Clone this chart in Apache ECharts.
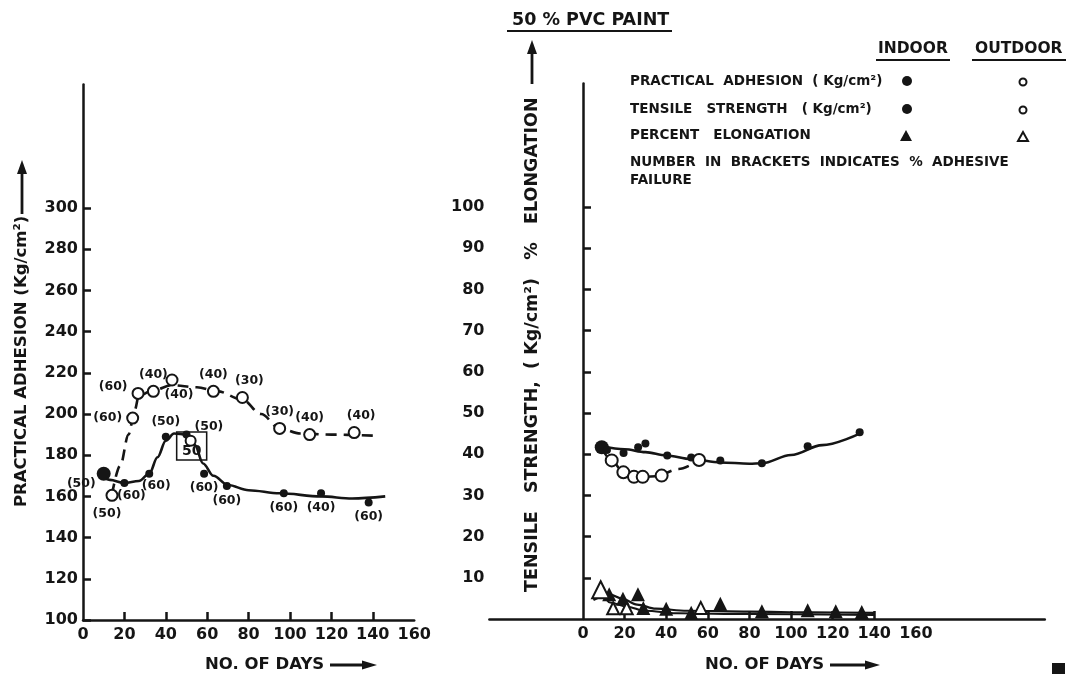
<!DOCTYPE html>
<html><head><meta charset="utf-8">
<script src="https://cdn.jsdelivr.net/npm/echarts@6/dist/echarts.min.js"></script>
<style>html,body{margin:0;padding:0;background:#fff}#c{width:1067px;height:674px}</style>
</head><body><div id="c"></div>
<script>
// ---------- LEFT PANEL: practical adhesion ----------
const leftXTicks = [0,20,40,60,80,100,120,140,160];
const leftYTicks = [100,120,140,160,180,200,220,240,260,280,300];
const indoorAdhDays = [10, 20, 32, 40, 50, 58.5, 69.5, 97, 115, 138];
const indoorAdhVals = [171, 166.5, 171, 189, 190, 171, 165, 161.5, 161.5, 157];
const indoorAdhLabels = ['(50)','(60)','(60)','(50)','(50)','(60)','(60)','(60)','(40)','(60)'];
const indoorAdhLabelPos = ['leftLow','bottomRight','bottomRight','top','right','bottom','bottom','bottom','bottom','bottom'];
const indoorCurveDays = [8, 13, 20, 27, 32, 36, 40, 44, 50, 54, 58, 63, 70, 80, 95, 115, 130, 146];
const indoorCurveVals = [170.5, 168, 166.5, 167.5, 171, 179, 187, 190.5, 190, 185, 176, 170, 165.5, 163, 161.5, 160, 159, 160];

const outdoorAdhDays = [14, 24, 26.6, 34, 43, 63, 77, 95, 109.5, 131];
const outdoorAdhVals = [160.5, 198, 210, 211, 216.5, 211, 208, 193, 190, 191];
const outdoorAdhLabels = ['(50)','(60)','(60)','(40)','(40)','(40)','(30)','(30)','(40)','(40)'];
const outdoorAdhLabelPos = ['bottomLeft','left','leftHigh','top','bottomRight','top','topRight','top','top','topRight'];
const outdoorCurveDays = [14, 18, 22, 25, 27, 34, 43, 55, 65, 77, 86, 95, 105, 120, 140];
const outdoorCurveVals = [161, 175, 190, 202, 209, 211.5, 214, 213, 211, 207, 200, 193, 190.5, 190, 189.5];

const boxedDay = [52], boxedVal = [187];
const boxDay = [52.5], boxVal = [184.5], boxLabel = ['50'];

// ---------- RIGHT PANEL: tensile strength & elongation ----------
const rightXTicks = [0,20,40,60,80,100,120,140,160];
const rightYTicks = [10,20,30,40,50,60,70,80,90,100];
const tensileInDays = [9, 11.5, 19.5, 26.5, 30, 40.5, 52, 66, 86, 108, 133];
const tensileInVals = [41.7, 41, 40.3, 41.7, 42.6, 39.7, 39.2, 38.5, 37.8, 41.9, 45.3];
const tensileInCurveDays = [9, 20, 30, 40, 52, 66, 80, 86, 100, 115, 133];
const tensileInCurveVals = [42, 41.2, 40.5, 39.7, 38.8, 38, 37.7, 37.8, 39.8, 42.2, 45];
const tensileOutDays = [13.8, 19.4, 24.5, 28.7, 37.8, 55.8];
const tensileOutVals = [38.5, 35.6, 34.5, 34.5, 34.8, 38.6];
const tensileOutCurveDays = [9, 13.8, 19.4, 24.5, 28.7, 37.8];
const tensileOutCurveVals = [41.5, 38.5, 35.6, 34.5, 34.5, 34.7];
const tensileOutDashDays = [37.8, 46, 55.8];
const tensileOutDashVals = [34.8, 36.4, 38.6];

const elongInDays = [12.6, 19.2, 26.4, 29, 40, 52, 66, 86, 108, 121.5, 134];
const elongInVals = [6, 4.9, 6, 2.7, 2.5, 1.5, 3.7, 1.9, 2.1, 1.9, 1.7];
const elongInCurveDays = [5, 12.6, 19, 26, 35, 50, 80, 110, 140];
const elongInCurveVals = [4.6, 6, 4.9, 3.5, 2.5, 2, 1.8, 1.6, 1.5];
const elongOutDays = [8.5, 14.5, 21, 56.6];
const elongOutVals = [7.1, 2.6, 2.6, 2.7];
const elongOutCurveDays = [8.5, 13, 21, 30, 45, 80, 140];
const elongOutCurveVals = [7, 4, 3, 2, 1.4, 1.2, 1.0];

// ---------- helpers ----------
const INK = '#151515';
const FONT = 'DejaVu Sans';
const pairs = (xs, ys) => xs.map((x, i) => [x, ys[i]]);
const posMap = {
  top: {position: 'top', offset: [0, 0]},
  topRight: {position: 'top', offset: [7, 0]},
  bottom: {position: 'bottom', offset: [0, 0]},
  bottomLeft: {position: 'bottom', offset: [-5, 1]},
  bottomRight: {position: 'bottom', offset: [7, -2]},
  left: {position: 'left', offset: [0, 0]},
  leftHigh: {position: 'left', offset: [0, -7]},
  leftLow: {position: 'left', offset: [3, 10]},
  right: {position: 'right', offset: [0, -8]}
};
function labelled(xs, ys, labels, pos) {
  return xs.map((x, i) => ({
    value: [x, ys[i]],
    label: Object.assign({show: true, formatter: labels[i]}, posMap[pos[i]])
  }));
}
const ptLabel = {color: INK, fontFamily: FONT, fontWeight: 'bold', fontSize: 12.5, distance: 4, opacity: 1};

function axisX(grid, min, max, ticks, labels) {
  return {
    type: 'value', gridIndex: grid, min: min, max: max,
    splitLine: {show: false},
    axisLine: {show: true, lineStyle: {color: INK, width: 2.5}},
    axisTick: {show: true, inside: true, length: 8, lineStyle: {color: INK, width: 2.5}, customValues: ticks},
    axisLabel: {color: INK, fontFamily: FONT, fontWeight: 'bold', fontSize: 16, margin: 7, customValues: labels}
  };
}
function axisY(grid, min, max, ticks) {
  return {
    type: 'value', gridIndex: grid, min: min, max: max,
    splitLine: {show: false},
    axisLine: {show: true, onZero: true, lineStyle: {color: INK, width: 2.5}},
    axisTick: {show: true, inside: true, length: 8, lineStyle: {color: INK, width: 2.5}, customValues: ticks},
    axisLabel: {color: INK, fontFamily: FONT, fontWeight: 'bold', fontSize: 16, margin: 5, customValues: ticks}
  };
}
function curve(xi, xs, ys, dashed, w) {
  return {type: 'line', xAxisIndex: xi, yAxisIndex: xi, data: pairs(xs, ys), smooth: 0.35, smoothMonotone: 'x',
    symbol: 'none', silent: true, z: 2,
    lineStyle: {color: INK, width: w || 2.6, opacity: 1, type: dashed ? [11, 7] : 'solid'}};
}
const solidItem = {color: INK, opacity: 1};
const openItem = {color: '#fff', borderColor: INK, borderWidth: 2, opacity: 1};

const chart = echarts.init(document.getElementById('c'), null, {renderer: 'canvas'});
const option = {
  backgroundColor: '#ffffff',
  animation: false,
  grid: [
    {left: 83, top: 84.4, width: 331.2, height: 535.6},
    {left: 489.4, top: 83.4, width: 555.4, height: 535.6}
  ],
  xAxis: [
    axisX(0, 0, 160, [20,40,60,80,100,120,140], leftXTicks),
    axisX(1, -45, 222, [20,40,60,80,100,120,140], rightXTicks)
  ],
  yAxis: [
    axisY(0, 100, 360, leftYTicks),
    axisY(1, 0, 130, rightYTicks)
  ],
  series: [
    curve(0, indoorCurveDays, indoorCurveVals, false),
    curve(0, outdoorCurveDays, outdoorCurveVals, true),
    {type: 'scatter', xAxisIndex: 0, yAxisIndex: 0, z: 4,
      data: labelled(indoorAdhDays, indoorAdhVals, indoorAdhLabels, indoorAdhLabelPos),
      symbol: 'circle', symbolSize: (v, p) => p.dataIndex === 0 ? 14 : 8,
      itemStyle: solidItem, label: ptLabel},
    {type: 'scatter', xAxisIndex: 0, yAxisIndex: 0, z: 5,
      data: labelled(outdoorAdhDays, outdoorAdhVals, outdoorAdhLabels, outdoorAdhLabelPos),
      symbol: 'circle', symbolSize: 11,
      itemStyle: openItem, label: ptLabel},
    {type: 'scatter', xAxisIndex: 0, yAxisIndex: 0, z: 3,
      data: boxDay.map((d, i) => ({value: [d, boxVal[i]], label: {show: true, formatter: boxLabel[i], position: 'inside', offset: [0, 5]}})),
      symbol: 'rect', symbolSize: [30, 28],
      itemStyle: {color: 'rgba(0,0,0,0)', borderColor: INK, borderWidth: 1.5, opacity: 1}, label: Object.assign({}, ptLabel, {fontSize: 14})},
    {type: 'scatter', xAxisIndex: 0, yAxisIndex: 0, z: 5,
      data: pairs(boxedDay, boxedVal), symbol: 'circle', symbolSize: 10,
      itemStyle: openItem},

    curve(1, tensileInCurveDays, tensileInCurveVals, false),
    curve(1, tensileOutCurveDays, tensileOutCurveVals, false),
    curve(1, tensileOutDashDays, tensileOutDashVals, true),
    curve(1, elongInCurveDays, elongInCurveVals, false, 2.2),
    curve(1, elongOutCurveDays, elongOutCurveVals, false, 2),
    {type: 'scatter', xAxisIndex: 1, yAxisIndex: 1, z: 4, data: pairs(tensileInDays, tensileInVals),
      symbol: 'circle', symbolSize: (v, p) => p.dataIndex === 0 ? 14 : 8, itemStyle: solidItem},
    {type: 'scatter', xAxisIndex: 1, yAxisIndex: 1, z: 5, data: pairs(tensileOutDays, tensileOutVals),
      symbol: 'circle', symbolSize: 12, itemStyle: openItem},
    {type: 'scatter', xAxisIndex: 1, yAxisIndex: 1, z: 4, data: pairs(elongInDays, elongInVals),
      symbol: 'triangle', symbolSize: 14, itemStyle: solidItem},
    {type: 'scatter', xAxisIndex: 1, yAxisIndex: 1, z: 5, data: pairs(elongOutDays, elongOutVals),
      symbol: 'triangle', symbolSize: (v, p) => p.dataIndex === 0 ? 17 : 12,
      itemStyle: openItem}
  ],
  graphic: (function () {
    const T = (x, y, text, size, extra) => Object.assign({type: 'text', x: x, y: y,
      style: {text: text, fill: INK, font: 'bold ' + size + 'px "' + FONT + '"', textAlign: 'left', textVerticalAlign: 'middle'}}, extra || {});
    const L = (x1, y1, x2, y2, w) => ({type: 'line', shape: {x1: x1, y1: y1, x2: x2, y2: y2}, style: {stroke: INK, lineWidth: w || 2}});
    const arrowUp = (x, yTop) => ({type: 'polygon', shape: {points: [[x, yTop], [x - 5, yTop + 14], [x + 5, yTop + 14]]}, style: {fill: INK}});
    const arrowRight = (xTip, y) => ({type: 'polygon', shape: {points: [[xTip, y], [xTip - 15, y - 4.5], [xTip - 15, y + 4.5]]}, style: {fill: INK}});
    return [
      // left y-axis title
      T(22, 507, 'PRACTICAL ADHESION (Kg/cm²)', 16.5, {rotation: Math.PI / 2}),
      L(22, 214, 22, 172, 2.8), arrowUp(22, 160),
      // right y-axis title
      T(532, 592, 'TENSILE   STRENGTH,  ( Kg/cm²)   %   ELONGATION', 17.5, {rotation: Math.PI / 2}),
      L(532, 84, 532, 52, 2.8), arrowUp(532, 40),
      // x titles
      T(205, 665, 'NO. OF DAYS', 16.5), L(330, 665, 364, 665, 3), arrowRight(377, 665),
      T(705, 665, 'NO. OF DAYS', 16.5), L(830, 665, 866, 665, 3), arrowRight(880, 665),
      // header
      T(512, 20, '50 % PVC PAINT', 17.5), L(507, 31, 672, 31, 2.2),
      T(878, 49, 'INDOOR', 15.5), L(876, 60, 950, 60, 2.2),
      T(975, 49, 'OUTDOOR', 15.5), L(972, 60, 1066, 60, 2.2),
      // legend rows
      T(630, 81, 'PRACTICAL  ADHESION  ( Kg/cm²)', 13.5),
      T(630, 109, 'TENSILE   STRENGTH   ( Kg/cm²)', 13.5),
      T(630, 135, 'PERCENT   ELONGATION', 13.5),
      T(630, 162, 'NUMBER  IN  BRACKETS  INDICATES  %  ADHESIVE', 13.5),
      T(630, 180, 'FAILURE', 13.5),
      {type: 'circle', shape: {cx: 907, cy: 81, r: 5}, style: {fill: INK}},
      {type: 'circle', shape: {cx: 907, cy: 109, r: 5}, style: {fill: INK}},
      {type: 'circle', shape: {cx: 1023, cy: 82, r: 3.5}, style: {fill: '#fff', stroke: INK, lineWidth: 2}},
      {type: 'circle', shape: {cx: 1023, cy: 110, r: 3.5}, style: {fill: '#fff', stroke: INK, lineWidth: 2}},
      {type: 'polygon', shape: {points: [[906, 130], [900, 141], [912, 141]]}, style: {fill: INK}},
      {type: 'polygon', shape: {points: [[1023, 132], [1018, 141], [1028, 141]]}, style: {fill: '#fff', stroke: INK, lineWidth: 2}},
      // corner mark
      {type: 'rect', shape: {x: 1052, y: 663, width: 13, height: 11}, style: {fill: INK}}
    ];
  })()
};
chart.setOption(option);
</script></body></html>
